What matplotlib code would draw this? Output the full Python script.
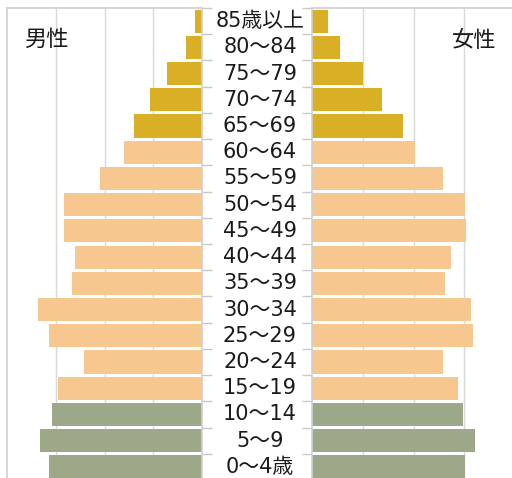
import matplotlib
matplotlib.use("Agg")
import matplotlib.pyplot as plt
import numpy as np

plt.rcParams['font.family'] = ['DejaVu Sans', 'Noto Sans CJK JP']

# age groups, top to bottom as in the picture
ages = ['85歳以上', '80～84', '75～79', '70～74', '65～69', '60～64', '55～59',
        '50～54', '45～49', '40～44', '35～39', '30～34', '25～29', '20～24',
        '15～19', '10～14', '5～9', '0～4歳']
male = [0.14, 0.33, 0.71, 1.06, 1.39, 1.61, 2.10, 2.84, 2.84, 2.61, 2.67,
        3.37, 3.14, 2.43, 2.96, 3.08, 3.33, 3.14]
female = [0.31, 0.55, 1.00, 1.37, 1.79, 2.02, 2.58, 3.01, 3.03, 2.74, 2.62,
          3.13, 3.17, 2.58, 2.87, 2.97, 3.21, 3.01]

gold = '#d8af25'
peach = '#f6c88f'
green = '#9ca888'
colors = [gold] * 5 + [peach] * 10 + [green] * 3

W, H = 512, 478
fig = plt.figure(figsize=(W / 100, H / 100), dpi=100)

y = np.arange(len(ages))
ax_m = fig.add_axes([7 / W, -2 / H, 195 / W, 472 / H])
ax_f = fig.add_axes([312 / W, -2 / H, 203 / W, 472 / H])

ax_m.barh(y, male, height=0.88, color=colors, zorder=2)
ax_f.barh(y, female, height=0.88, color=colors, zorder=2)

for ax in (ax_m, ax_f):
    ax.set_ylim(len(ages) - 0.5, -0.5)
    ax.set_xlim(0, 4)
    ax.set_xticks([1, 2, 3])
    ax.set_xticklabels([])
    ax.tick_params(axis='x', length=0)
    ax.grid(axis='x', color='#d9d9d9', linewidth=1, zorder=0)
    ax.set_yticks(np.arange(len(ages) + 1) - 0.5)
    ax.set_yticklabels([])
    ax.tick_params(axis='y', length=7, color='#c8c8c8', width=1)
    for s in ax.spines.values():
        s.set_color('#d0d0d0')
        s.set_linewidth(1.2)

ax_m.invert_xaxis()
ax_m.yaxis.tick_right()
ax_m.spines['bottom'].set_visible(False)
ax_f.spines['bottom'].set_visible(False)
ax_f.spines['right'].set_visible(False)

# age labels in the middle
for i, lab in enumerate(ages):
    yc = ax_m.transData.transform((0, i))[1]
    fig.text(260 / W, yc / H, lab, ha='center', va='center', fontsize=15,
             color='#1a1a1a')

fig.text(46 / W, 1 - 40 / H, '男性', ha='center', va='center', fontsize=16,
         color='#1a1a1a')
fig.text(474 / W, 1 - 40 / H, '女性', ha='center', va='center', fontsize=16,
         color='#1a1a1a')

fig.savefig('out.png', dpi=100)
